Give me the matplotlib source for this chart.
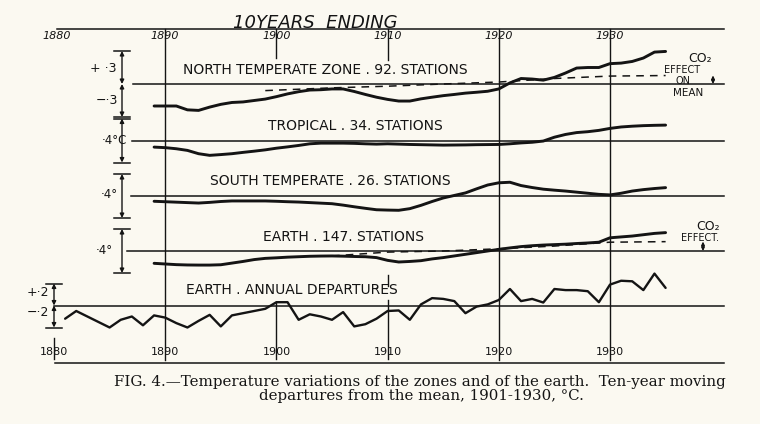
import matplotlib
matplotlib.use("Agg")
import matplotlib.pyplot as plt

# ---------------- data ----------------
decade_years = [1880, 1890, 1900, 1910, 1920, 1930]
decade_labels = ["1880", "1890", "1900", "1910", "1920", "1930"]

smooth_years = list(range(1889, 1936))
north_temperate = [-0.20, -0.20, -0.20, -0.235, -0.24, -0.21, -0.185, -0.168, -0.163, -0.15,
                   -0.137, -0.115, -0.09, -0.07, -0.055, -0.052, -0.045, -0.045, -0.068, -0.095,
                   -0.12, -0.14, -0.155, -0.155, -0.135, -0.12, -0.106, -0.095, -0.083, -0.075,
                   -0.066, -0.045, 0.01, 0.05, 0.045, 0.035, 0.06, 0.10, 0.145, 0.15,
                   0.15, 0.185, 0.19, 0.205, 0.236, 0.29, 0.296]
tropical = [-0.06, -0.065, -0.075, -0.09, -0.12, -0.135, -0.128, -0.12, -0.108, -0.097,
            -0.085, -0.07, -0.058, -0.045, -0.03, -0.024, -0.024, -0.024, -0.026, -0.03,
            -0.033, -0.03, -0.033, -0.036, -0.038, -0.04, -0.042, -0.041, -0.04, -0.038,
            -0.037, -0.036, -0.03, -0.022, -0.016, -0.005, 0.03, 0.055, 0.072, 0.08,
            0.092, 0.11, 0.123, 0.13, 0.135, 0.138, 0.14]
south_temperate = [-0.048, -0.052, -0.056, -0.06, -0.064, -0.058, -0.05, -0.045, -0.045, -0.045,
                   -0.045, -0.048, -0.052, -0.055, -0.06, -0.065, -0.07, -0.083, -0.098, -0.112,
                   -0.125, -0.128, -0.13, -0.115, -0.085, -0.05, -0.018, 0.005, 0.028, 0.065,
                   0.10, 0.12, 0.125, 0.095, 0.077, 0.062, 0.053, 0.045, 0.035, 0.025,
                   0.015, 0.01, 0.025, 0.045, 0.058, 0.068, 0.076]
earth_10yr = [-0.112, -0.118, -0.124, -0.127, -0.128, -0.128, -0.125, -0.11, -0.095, -0.078,
              -0.067, -0.062, -0.056, -0.052, -0.048, -0.046, -0.045, -0.047, -0.05, -0.052,
              -0.06, -0.085, -0.10, -0.095, -0.088, -0.072, -0.06, -0.045, -0.03, -0.015,
              0.0, 0.015, 0.028, 0.04, 0.048, 0.054, 0.058, 0.062, 0.068, 0.073,
              0.08, 0.12, 0.128, 0.136, 0.148, 0.16, 0.167]

co2_nt_years = [1899, 1905, 1910, 1915, 1920, 1925, 1930, 1935]
co2_nt = [-0.06, -0.035, -0.02, 0.0, 0.018, 0.05, 0.072, 0.077]
co2_earth_years = [1905, 1910, 1915, 1920, 1925, 1930, 1935]
co2_earth = [-0.045, -0.01, 0.0, 0.02, 0.045, 0.08, 0.085]

annual_years = list(range(1881, 1936))
annual_dep = [-0.12, -0.05, -0.10, -0.15, -0.20, -0.13, -0.10, -0.18, -0.09, -0.11,
              -0.16, -0.20, -0.14, -0.085, -0.19, -0.09, -0.07, -0.05, -0.03, 0.03,
              0.03, -0.13, -0.08, -0.10, -0.13, -0.06, -0.19, -0.17, -0.12, -0.05,
              -0.045, -0.13, 0.01, 0.067, 0.06, 0.04, -0.07, -0.01, 0.01, 0.05,
              0.15, 0.04, 0.06, 0.027, 0.15, 0.14, 0.14, 0.13, 0.03, 0.19,
              0.225, 0.22, 0.14, 0.29, 0.16]

panel_titles = ["NORTH TEMPERATE ZONE . 92. STATIONS",
                "TROPICAL . 34. STATIONS",
                "SOUTH TEMPERATE . 26. STATIONS",
                "EARTH . 147. STATIONS",
                "EARTH . ANNUAL DEPARTURES"]
scale_half = [0.3, 0.2, 0.2, 0.2, 0.2]
scale_labels = [["+ ·3", "−·3"], ["·4°C"], ["·4°"], ["·4°"], ["+·2", "−·2"]]

# ---------------- layout / style ----------------
W, H = 760, 424
PX1880 = 54.0          # pixel x of 1880
PPY = 11.12            # pixels per year
PPC = 110.0            # pixels per degree C
X0 = 1880 - PX1880 / PPY
X1 = X0 + W / PPY
BG = "#fbf9f1"
INK = "#141414"

def yr(px):
    return X0 + px / PPY

fig = plt.figure(figsize=(7.6, 4.24), dpi=100, facecolor=BG)

# pixel-coordinate layer for lettering
lay = fig.add_axes([0, 0, 1, 1], frameon=False)
lay.set_xlim(0, W); lay.set_ylim(H, 0); lay.axis("off")

# year-x / pixel-y layer for the frame lines
frame = fig.add_axes([0, 0, 1, 1], frameon=False)
frame.set_xlim(X0, X1); frame.set_ylim(H, 0); frame.axis("off")

def panel(base_px):
    a = fig.add_axes([0, 0, 1, 1], frameon=False)
    a.set_xlim(X0, X1)
    a.set_ylim((base_px - H) / PPC, base_px / PPC)
    a.axis("off")
    return a

# top and bottom rules
frame.plot([yr(57), yr(724)], [29, 29], color=INK, lw=1.1)
frame.plot([yr(55), yr(724)], [363, 363], color=INK, lw=1.1)

# decade lines (segments in pixel y)
segments = {1880: [(338, 359)],
            1890: [(29, 360)],
            1900: [(29, 58), (302, 359)],
            1910: [(29, 60), (275, 286), (300, 359)],
            1920: [(29, 360)],
            1930: [(29, 360)]}
for y_, segs in segments.items():
    for a_, b_ in segs:
        frame.plot([y_, y_], [a_, b_], color=INK, lw=1.0)

lay.text(233, 28, "10YEARS  ENDING", fontsize=13, style="italic", color=INK,
         ha="left", va="baseline", family="DejaVu Sans")
for y_, lab in zip(decade_years, decade_labels):
    frame.text(y_ if y_ != 1880 else 1880.2, 36, lab, fontsize=8, style="italic", color=INK,
               ha="center", va="center")
    frame.text(y_, 352, lab, fontsize=8, color=INK, ha="center", va="center")

# panels
bases = [84, 140.5, 196, 251, 305.5]
base_start_px = [133, 132, 131, 127, 54]
series = [(smooth_years, north_temperate), (smooth_years, tropical),
          (smooth_years, south_temperate), (smooth_years, earth_10yr),
          (annual_years, annual_dep)]
title_pos = [(183, 70), (268, 126), (210, 181), (263, 237), (186, 290)]
bar_px = [122, 122, 122, 122, 54]

axes = []
for i, b in enumerate(bases):
    ax = panel(b)
    axes.append(ax)
    ax.plot([yr(base_start_px[i]), yr(724)], [0, 0], color=INK, lw=1.1)
    xs, ys = series[i]
    ax.plot(xs, ys, color=INK, lw=2.1 if i < 4 else 1.7, solid_joinstyle="round",
            solid_capstyle="round")
    lay.text(title_pos[i][0], title_pos[i][1], panel_titles[i], fontsize=10, color=INK,
             ha="left", va="center")
    # scale bar
    xb = yr(bar_px[i])
    h = scale_half[i]
    cap = 8 / PPY
    for yy in (h, -h):
        ax.plot([xb - cap, xb + cap], [yy, yy], color=INK, lw=1.1)
    if len(scale_labels[i]) == 2:
        for y_a, y_b in ((0, h), (0, -h)):
            ax.annotate("", xy=(xb, y_b), xytext=(xb, y_a),
                        arrowprops=dict(arrowstyle="<|-|>", color=INK, lw=1.0,
                                        mutation_scale=6, shrinkA=0, shrinkB=0))
    else:
        ax.annotate("", xy=(xb, -h), xytext=(xb, h),
                    arrowprops=dict(arrowstyle="<|-|>", color=INK, lw=1.0,
                                    mutation_scale=6, shrinkA=0, shrinkB=0))

# scale-bar labels
lay.text(116, 68, scale_labels[0][0], fontsize=9, color=INK, ha="right", va="center")
lay.text(118, 101, scale_labels[0][1], fontsize=9, color=INK, ha="right", va="center")
lay.text(127, 141, scale_labels[1][0], fontsize=8.5, color=INK, ha="right", va="center")
lay.text(118, 195, scale_labels[2][0], fontsize=8.5, color=INK, ha="right", va="center")
lay.text(113, 251, scale_labels[3][0], fontsize=8.5, color=INK, ha="right", va="center")
lay.text(49, 292, scale_labels[4][0], fontsize=9, color=INK, ha="right", va="center")
lay.text(49, 313, scale_labels[4][1], fontsize=9, color=INK, ha="right", va="center")

# CO2 effect dashed curves
axes[0].plot(co2_nt_years, co2_nt, color=INK, lw=1.1, dashes=(5, 4))
axes[3].plot(co2_earth_years, co2_earth, color=INK, lw=1.1, dashes=(5, 4))

# CO2 notes, north temperate
lay.text(700, 58, "CO₂", fontsize=9, color=INK, ha="center", va="center")
lay.text(682, 70, "EFFECT", fontsize=7, color=INK, ha="center", va="center")
lay.text(683, 81, "ON", fontsize=7, color=INK, ha="center", va="center")
lay.text(688, 93, "MEAN", fontsize=7.5, color=INK, ha="center", va="center")
xa = yr(713)
axes[0].annotate("", xy=(xa, 0.0), xytext=(xa, co2_nt[-1]),
                 arrowprops=dict(arrowstyle="<|-|>", color=INK, lw=0.9, mutation_scale=5,
                                 shrinkA=0, shrinkB=0))
# CO2 notes, earth
lay.text(708, 226, "CO₂", fontsize=9, color=INK, ha="center", va="center")
lay.text(700, 238, "EFFECT.", fontsize=7, color=INK, ha="center", va="center")
xa = yr(703)
axes[3].annotate("", xy=(xa, 0.0), xytext=(xa, co2_earth[-1]),
                 arrowprops=dict(arrowstyle="<|-|>", color=INK, lw=0.9, mutation_scale=5,
                                 shrinkA=0, shrinkB=0))

# caption
lay.text(420, 382, "FIG. 4.—Temperature variations of the zones and of the earth.  Ten-year moving",
         fontsize=10.8, family="DejaVu Serif", color=INK, ha="center", va="center")
lay.text(421, 396, "departures from the mean, 1901-1930, °C.",
         fontsize=10.8, family="DejaVu Serif", color=INK, ha="center", va="center")

fig.savefig("out.png", dpi=100, facecolor=BG)
